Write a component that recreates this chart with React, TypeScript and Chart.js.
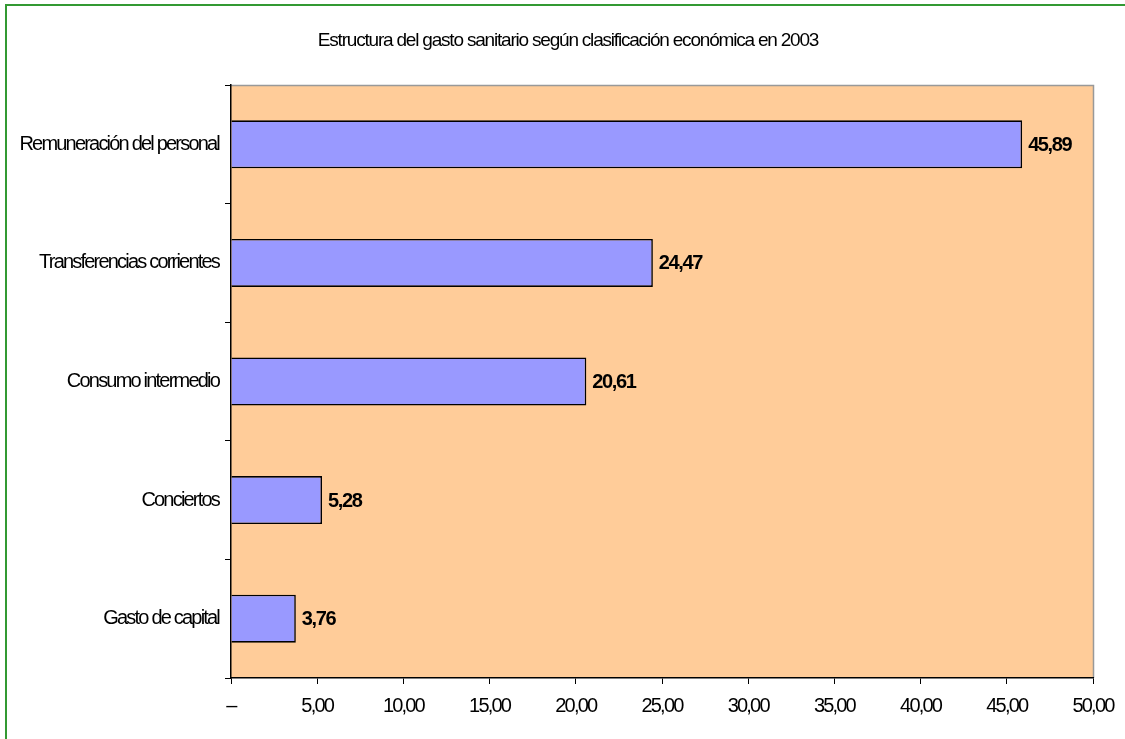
import React, { useEffect, useRef } from "react";
import { Chart, registerables } from "chart.js";

Chart.register(...registerables);

const title = "Estructura del gasto sanitario según clasificación económica en 2003";
const categories = [
  "Remuneración del personal",
  "Transferencias corrientes",
  "Consumo intermedio",
  "Conciertos",
  "Gasto de capital",
];
const values = [45.89, 24.47, 20.61, 5.28, 3.76];
const valueLabels = ["45,89", "24,47", "20,61", "5,28", "3,76"];
const xTickValues = [0, 5, 10, 15, 20, 25, 30, 35, 40, 45, 50];
const xTickLabels = ["–", "5,00", "10,00", "15,00", "20,00", "25,00", "30,00", "35,00", "40,00", "45,00", "50,00"];

const FONT = "'Liberation Sans', Arial, sans-serif";
const TICK_SPACING = "-1.8px";

const setSpacing = (chart: any) => {
  try {
    chart.ctx.letterSpacing = TICK_SPACING;
  } catch (e) {}
};

const customPlugin = {
  id: "custom",
  beforeLayout(chart: any) {
    setSpacing(chart);
  },
  beforeDraw(chart: any) {
    const { ctx, chartArea } = chart;
    ctx.save();
    ctx.fillStyle = "#FFCC99";
    ctx.fillRect(chartArea.left, chartArea.top, chartArea.right - chartArea.left, chartArea.bottom - chartArea.top);
    ctx.strokeStyle = "#999999";
    ctx.lineWidth = 1.5;
    ctx.beginPath();
    ctx.moveTo(chartArea.left, chartArea.top + 0.5);
    ctx.lineTo(chartArea.right + 0.5, chartArea.top + 0.5);
    ctx.lineTo(chartArea.right + 0.5, chartArea.bottom);
    ctx.stroke();
    ctx.restore();
    setSpacing(chart);
  },
  afterDatasetsDraw(chart: any) {
    const { ctx } = chart;
    const meta = chart.getDatasetMeta(0);
    ctx.save();
    ctx.letterSpacing = "-1.4px";
    ctx.font = `bold 20px ${FONT}`;
    ctx.fillStyle = "#000";
    ctx.textAlign = "left";
    ctx.textBaseline = "middle";
    meta.data.forEach((bar: any, i: number) => {
      ctx.fillText(valueLabels[i], bar.x + 6, bar.y + 1);
    });
    ctx.restore();
  },
  afterDraw(chart: any) {
    const { ctx } = chart;
    ctx.save();
    ctx.letterSpacing = "-1.2px";
    ctx.font = `19px ${FONT}`;
    ctx.fillStyle = "#000";
    ctx.textAlign = "center";
    ctx.textBaseline = "middle";
    ctx.fillText(title, 568, 41);
    ctx.restore();
    setSpacing(chart);
  },
};

export default function App() {
  const ref = useRef<HTMLCanvasElement>(null);

  useEffect(() => {
    if (!ref.current) return;
    const chart = new Chart(ref.current, {
      type: "bar",
      data: {
        labels: categories,
        datasets: [
          {
            data: values,
            backgroundColor: "#9999FF",
            borderColor: "#000000",
            borderWidth: 1.6,
            barPercentage: 0.405,
            categoryPercentage: 1,
          },
        ],
      },
      options: {
        indexAxis: "y",
        responsive: false,
        animation: false,
        devicePixelRatio: 1,
        layout: { padding: { top: 85, right: 32, left: 0, bottom: 0 } },
        plugins: {
          legend: { display: false },
          tooltip: { enabled: false },
          title: { display: false },
        },
        scales: {
          x: {
            type: "linear",
            min: 0,
            max: 50,
            afterBuildTicks(scale: any) {
              scale.ticks = xTickValues.map((v) => ({ value: v }));
            },
            afterFit(scale: any) {
              scale.height = 61;
            },
            ticks: {
              font: { family: FONT, size: 20 },
              color: "#000",
              padding: 10,
              maxRotation: 0,
              autoSkip: false,
              callback: (v: any) => {
                const i = xTickValues.indexOf(Number(v));
                return i >= 0 ? xTickLabels[i] : "";
              },
            },
            grid: {
              drawOnChartArea: false,
              drawTicks: true,
              tickLength: 6,
              color: "#000",
              lineWidth: 1,
            },
            border: { color: "#000", width: 1.5 },
          },
          y: {
            type: "category",
            afterFit(scale: any) {
              scale.width = 231;
            },
            ticks: {
              font: { family: FONT, size: 20 },
              color: "#000",
              padding: 6,
              autoSkip: false,
            },
            grid: {
              offset: true,
              drawOnChartArea: false,
              drawTicks: true,
              tickLength: 6,
              color: "#000",
              lineWidth: 1,
            },
            border: { color: "#000", width: 1.5 },
          },
        },
      },
      plugins: [customPlugin],
    } as any);
    return () => chart.destroy();
  }, []);

  return (
    <div style={{ position: "fixed", left: 0, top: 0, width: 1125, height: 739, background: "#fff", overflow: "hidden" }}>
      <canvas ref={ref} width={1125} height={739} style={{ position: "absolute", left: 0, top: 0, width: 1125, height: 739 }} />
      <div
        style={{
          position: "absolute",
          left: 5,
          top: 4,
          width: 2000,
          height: 2000,
          border: "2px solid #339933",
          boxSizing: "border-box",
          pointerEvents: "none",
        }}
      />
    </div>
  );
}
